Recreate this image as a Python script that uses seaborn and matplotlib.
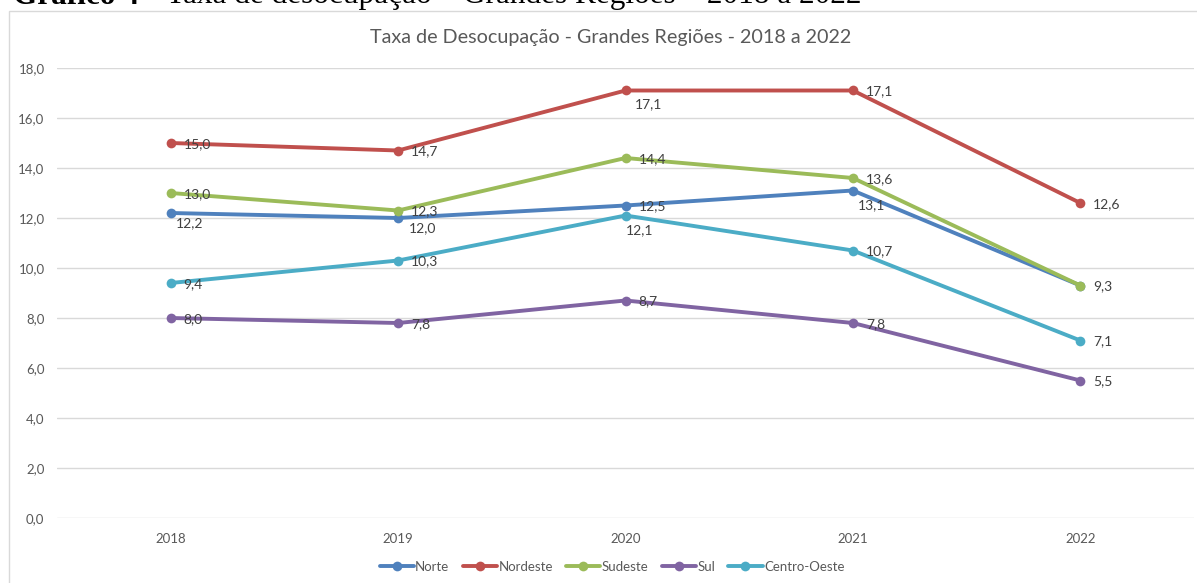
import pandas as pd
import matplotlib
matplotlib.use("Agg")
import matplotlib.pyplot as plt
from matplotlib.lines import Line2D
from matplotlib.patches import Rectangle
import seaborn as sns

# dados
anos = [2018, 2019, 2020, 2021, 2022]
regioes = ["Norte", "Nordeste", "Sudeste", "Sul", "Centro-Oeste"]
norte = [12.2, 12.0, 12.5, 13.1, 9.3]
nordeste = [15.0, 14.7, 17.1, 17.1, 12.6]
sudeste = [13.0, 12.3, 14.4, 13.6, 9.3]
sul = [8.0, 7.8, 8.7, 7.8, 5.5]
centro_oeste = [9.4, 10.3, 12.1, 10.7, 7.1]

cores = ["#4f81bd", "#c0504d", "#9bbb59", "#8064a2", "#4bacc6"]

# deslocamento dos rotulos (pixels), padrao a direita do ponto
offset_padrao = (13, 1)
offsets = {
    ("Norte", 2018): (5, 10),
    ("Norte", 2019): (11, 10),
    ("Norte", 2021): (5, 15),
    ("Nordeste", 2020): (9, 14),
    ("Centro-Oeste", 2020): (0, 15),
}


def fmt(v):
    return f"{v:.1f}".replace(".", ",")


def main():
    valores = [norte, nordeste, sudeste, sul, centro_oeste]
    df = pd.DataFrame({
        "ano": anos * len(regioes),
        "taxa": [v for serie in valores for v in serie],
        "regiao": [r for r in regioes for _ in anos],
    })

    sns.set_style("white")
    plt.rcParams["font.family"] = ["Lato", "DejaVu Sans"]

    fig = plt.figure(figsize=(11.97, 5.83), dpi=100)
    W, H = 1197, 583
    ax = fig.add_axes([57 / W, 1 - 518 / H, (1194 - 57) / W, (518 - 68) / H])

    sns.lineplot(data=df, x="ano", y="taxa", hue="regiao", palette=cores,
                 hue_order=regioes, marker="o", markersize=7, markeredgewidth=0,
                 linewidth=2.8, legend=False, ax=ax)

    ax.set_xlim(2017.5, 2022.5)
    ax.set_ylim(0, 18)
    ax.set_yticks(range(0, 19, 2))
    ax.set_yticklabels([fmt(v) for v in range(0, 19, 2)])
    ax.set_xticks(anos)
    ax.set_xticklabels([str(a) for a in anos])
    ax.grid(axis="y", color="#d9d9d9", linewidth=1)
    ax.set_axisbelow(True)
    for s in ax.spines.values():
        s.set_visible(False)
    ax.tick_params(axis="y", length=0, pad=9, labelsize=9.5, labelcolor="#595959")
    ax.tick_params(axis="x", length=0, pad=11, labelsize=9.5, labelcolor="#595959")
    ax.set_xlabel("")
    ax.set_ylabel("")

    # rotulos de dados
    ja_feito = set()
    for regiao, serie in zip(regioes, valores):
        for ano, v in zip(anos, serie):
            if (ano, v) in ja_feito:
                continue
            ja_feito.add((ano, v))
            dx, dy = offsets.get((regiao, ano), offset_padrao)
            ax.annotate(fmt(v), (ano, v), xytext=(dx * 0.72, -dy * 0.72),
                        textcoords="offset points", ha="left", va="center",
                        fontsize=10, color="#404040")

    # titulo do grafico
    fig.text(611 / W, 1 - 38 / H, "Taxa de Desocupação - Grandes Regiões - 2018 a 2022",
             ha="center", va="center", fontsize=14.2, color="#595959")

    # legenda
    handles = [Line2D([], [], color=c, marker="o", markersize=7, markeredgewidth=0,
                      linewidth=2.8) for c in cores]
    fig.legend(handles, regioes, loc="center", bbox_to_anchor=(612 / W, 1 - 567 / H),
               ncol=5, frameon=False, fontsize=9.5, handlelength=2.6,
               handletextpad=0.1, columnspacing=1.0, labelcolor="#595959")

    # moldura da area do grafico
    fig.patches.append(Rectangle((9 / W, -0.05), 1.2, 1 - 11 / H + 0.05,
                                 transform=fig.transFigure, fill=False,
                                 edgecolor="#d9d9d9", linewidth=1))

    # legenda do documento, cortada no topo como na imagem original
    fig.text(13 / W, 1 - 3.5 / H, "Gráfico 4 –", ha="left", va="baseline",
             fontsize=22.5, fontweight="bold", family="Liberation Serif", color="black")
    fig.text(862 / W, 1 - 3.5 / H, "Taxa de desocupação – Grandes Regiões – 2018 a 2022",
             ha="right", va="baseline", fontsize=22.5, family="Liberation Serif",
             color="black")

    fig.savefig("out.png", dpi=100)


if __name__ == "__main__":
    main()
